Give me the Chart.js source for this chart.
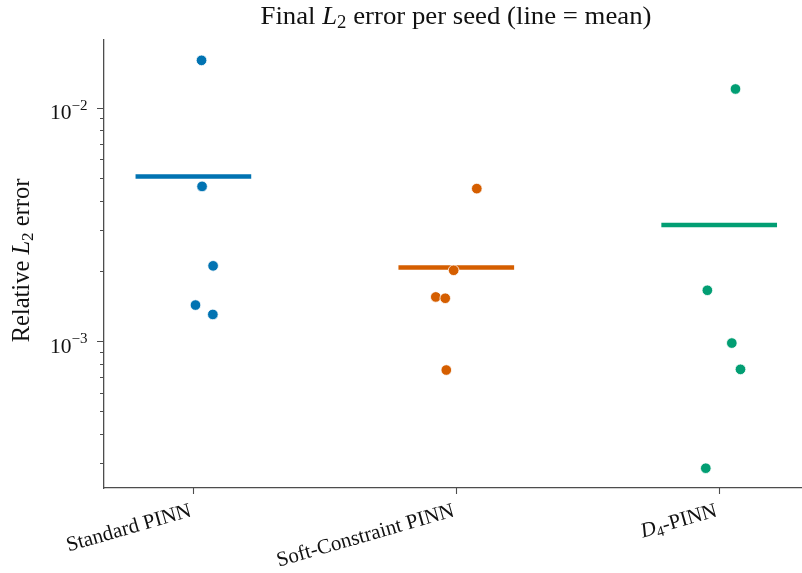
<!DOCTYPE html>
<html>
<head>
<meta charset="utf-8">
<title>Final L2 error per seed</title>
<script src="https://cdn.jsdelivr.net/npm/chart.js@4.4.1/dist/chart.umd.min.js"></script>
<style>
  html, body { margin: 0; padding: 0; background: #fff; }
  #wrap { width: 802px; height: 573px; }
</style>
</head>
<body>
<div id="wrap"><canvas id="errChart"></canvas></div>
<script>
  const methods = ['Standard PINN', 'Soft-Constraint PINN', 'D4-PINN'];
  const colors = ['#0173b2', '#d55e00', '#029e73'];

  // Relative L2 error, one value per seed
  const standardErr = [0.01596, 0.0046, 0.0021, 0.001426, 0.0013];
  const softErr = [0.0045, 0.00201, 0.001545, 0.001525, 0.000751];
  const d4Err = [0.01203, 0.00165, 0.00098, 0.000756, 0.000285];

  // horizontal strip jitter for each seed
  const standardJitter = [0.031, 0.033, 0.075, 0.008, 0.074];
  const softJitter = [0.078, -0.010, -0.078, -0.042, -0.038];
  const d4Jitter = [0.062, -0.045, 0.048, 0.081, -0.051];

  // log axis ticks
  const yMajorTicks = [1e-3, 1e-2];
  const yMajorLabels = ['\u22123', '\u22122'];
  const yMinorTicks = [3e-4, 4e-4, 5e-4, 6e-4, 7e-4, 8e-4, 9e-4,
                       2e-3, 3e-3, 4e-3, 5e-3, 6e-3, 7e-3, 8e-3, 9e-3];

  const groups = [standardErr, softErr, d4Err];
  const jitters = [standardJitter, softJitter, d4Jitter];
  const means = groups.map(g => g.reduce((a, b) => a + b, 0) / g.length);

  const axisColor = '#4d4d4d';
  const textColor = '#111';
  const serif = '"Liberation Serif", "Times New Roman", serif';

  // draw a run of text pieces (italic / subscript / superscript) on one baseline
  function drawRich(ctx, segs, x, y, size, align, angle, scaleX) {
    const fontFor = s => (s.italic ? 'italic ' : '') + (size * (s.scale || 1)) + 'px ' + serif;
    ctx.save();
    ctx.translate(x, y);
    ctx.scale(scaleX || 1, 1);
    ctx.rotate(angle || 0);
    const widths = segs.map(s => { ctx.font = fontFor(s); return ctx.measureText(s.text).width; });
    const total = widths.reduce((a, b) => a + b, 0);
    let cx = align === 'center' ? -total / 2 : align === 'right' ? -total : 0;
    ctx.fillStyle = textColor;
    ctx.textAlign = 'left';
    ctx.textBaseline = 'alphabetic';
    segs.forEach((s, i) => {
      ctx.font = fontFor(s);
      ctx.fillText(s.text, cx, (s.dy || 0) * size);
      cx += widths[i];
    });
    ctx.restore();
  }

  const xLabelSegs = [
    [{ text: 'Standard PINN' }],
    [{ text: 'Soft-Constraint PINN' }],
    [{ text: 'D', italic: true }, { text: '4', scale: 0.7, dy: 0.17 }, { text: '-PINN' }]
  ];

  const axisDecor = {
    id: 'axisDecor',
    afterDraw(chart) {
      const ctx = chart.ctx;
      const xs = chart.scales.x, ys = chart.scales.y;
      const area = chart.chartArea;
      ctx.save();
      ctx.strokeStyle = axisColor;
      ctx.lineWidth = 1.1;
      ctx.beginPath();
      yMajorTicks.forEach(v => {
        const py = Math.round(ys.getPixelForValue(v)) + 0.5;
        ctx.moveTo(area.left - 7, py); ctx.lineTo(area.left, py);
      });
      yMinorTicks.forEach(v => {
        const py = Math.round(ys.getPixelForValue(v)) + 0.5;
        ctx.moveTo(area.left - 4, py); ctx.lineTo(area.left, py);
      });
      methods.forEach((m, i) => {
        const px = Math.round(xs.getPixelForValue(i)) + 0.5;
        ctx.moveTo(px, area.bottom); ctx.lineTo(px, area.bottom + 6);
      });
      ctx.stroke();
      ctx.restore();

      yMajorTicks.forEach((v, i) => {
        const py = ys.getPixelForValue(v);
        drawRich(ctx, [{ text: '10' }, { text: yMajorLabels[i], scale: 0.7, dy: -0.46 }],
          area.left - 16.5, py + 11.5, 20.5, 'right', 0, 1.05);
      });

      methods.forEach((m, i) => {
        const px = xs.getPixelForValue(i);
        drawRich(ctx, xLabelSegs[i], px - 1, area.bottom + 28, 21, 'right', -16 * Math.PI / 180, 1);
      });

      drawRich(ctx, [{ text: 'Final ' }, { text: 'L', italic: true }, { text: '2', scale: 0.7, dy: 0.17 },
        { text: ' error per seed (line = mean)' }], (area.left + area.right) / 2 + 3, 23.5, 25.5, 'center', 0, 1.05);

      drawRich(ctx, [{ text: 'Relative ' }, { text: 'L', italic: true }, { text: '2', scale: 0.7, dy: 0.17 },
        { text: ' error' }], 29, (area.top + area.bottom) / 2 - 3.5, 24.5, 'center', -Math.PI / 2, 1);
    }
  };

  const pointSets = groups.map((g, i) => ({
    type: 'scatter',
    label: methods[i],
    data: g.map((v, j) => ({ x: i + jitters[i][j], y: v })),
    backgroundColor: colors[i],
    borderColor: '#ffffff',
    borderWidth: 0.8,
    pointRadius: 5.3,
    pointHoverRadius: 5.3,
    order: 0
  }));

  const meanSets = means.map((m, i) => ({
    type: 'line',
    label: methods[i] + ' mean',
    data: [{ x: i - 0.22, y: m }, { x: i + 0.22, y: m }],
    borderColor: colors[i],
    borderWidth: 4.5,
    borderCapStyle: 'butt',
    pointRadius: 0,
    fill: false,
    order: 1
  }));

  const ctx = document.getElementById('errChart').getContext('2d');
  const errChart = new Chart(ctx, {
    type: 'scatter',
    data: { datasets: pointSets.concat(meanSets) },
    options: {
      responsive: true,
      maintainAspectRatio: false,
      animation: false,
      layout: { autoPadding: false, padding: { left: 104, top: 40, right: 0, bottom: 85 } },
      plugins: {
        legend: { display: false },
        tooltip: { enabled: false }
      },
      scales: {
        x: {
          type: 'linear',
          min: -0.34,
          max: 2.315,
          grid: { display: false, drawTicks: false },
          ticks: { display: false },
          border: { display: true, color: axisColor, width: 1.3 }
        },
        y: {
          type: 'logarithmic',
          min: 2.344e-4,
          max: 0.01951,
          grid: { display: false, drawTicks: false },
          ticks: { display: false },
          border: { display: true, color: axisColor, width: 1.3 }
        }
      }
    },
    plugins: [axisDecor]
  });
</script>
</body>
</html>
